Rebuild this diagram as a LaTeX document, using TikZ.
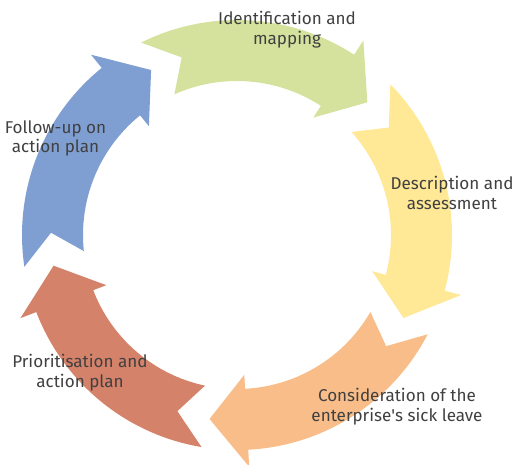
\documentclass[tikz,border=0pt]{standalone}
\usepackage{fontspec}
\setmainfont{Fira Sans}
\definecolor{idgreen}{RGB}{212,226,158}
\definecolor{descyellow}{RGB}{255,232,150}
\definecolor{sickorange}{RGB}{248,189,136}
\definecolor{priored}{RGB}{213,130,106}
\definecolor{followblue}{RGB}{127,159,211}
\tikzset{every picture/.style={line width=0.75pt}}
\tikzset{
  cyclearrow/.style={draw=none, fill=#1},
  steplabel/.style={align=center, inner sep=0.75pt, color={rgb, 255:red, 64; green, 64; blue, 64}, font=\fontsize{12.8}{14.8}\selectfont}
}

\begin{document}
\begin{tikzpicture}[x=0.75pt,y=0.75pt,yscale=-1,xscale=1]
\useasboundingbox (0,0) rectangle (516,464);

\begin{scope}[shift={(237,235)},yscale=-1]
%Shape: Circular Arrow (top)
\path [cyclearrow=idgreen] (116.5:215) -- (107.3:186) -- (114:154) arc [start angle=114, end angle=57, radius=154] -- (57:140) -- (45.5:186) -- (57:232) -- (57:215) arc [start angle=57, end angle=116.5, radius=215] -- cycle ;
%Shape: Circular Arrow (right)
\path [cyclearrow=descyellow] (44.5:215) -- (35.3:186) -- (42:154) arc [start angle=42, end angle=-15, radius=154] -- (-15:140) -- (-26.5:186) -- (-15:232) -- (-15:215) arc [start angle=-15, end angle=44.5, radius=215] -- cycle ;
%Shape: Circular Arrow (bottom right)
\path [cyclearrow=sickorange] (-27.5:215) -- (-36.7:186) -- (-30:154) arc [start angle=-30, end angle=-87, radius=154] -- (-87:140) -- (-98.5:186) -- (-87:232) -- (-87:215) arc [start angle=-87, end angle=-27.5, radius=215] -- cycle ;
%Shape: Circular Arrow (bottom left)
\path [cyclearrow=priored] (-99.5:215) -- (-108.7:186) -- (-102:154) arc [start angle=-102, end angle=-159, radius=154] -- (-159:140) -- (-170.5:186) -- (-159:232) -- (-159:215) arc [start angle=-159, end angle=-99.5, radius=215] -- cycle ;
%Shape: Circular Arrow (left)
\path [cyclearrow=followblue] (188.5:215) -- (179.3:186) -- (186:154) arc [start angle=186, end angle=129, radius=154] -- (129:140) -- (117.5:186) -- (129:232) -- (129:215) arc [start angle=129, end angle=188.5, radius=215] -- cycle ;
\end{scope}

% Text Node
\draw (287,30) node [steplabel] (ident) {Identification and\\mapping};
% Text Node
\draw (452,193) node [steplabel] (descr) {Description and\\assessment};
% Text Node
\draw (397,407) node [steplabel] (sick) {Consideration of the\\enterprise\textquotesingle s sick leave};
% Text Node
\draw (80,373) node [steplabel] (prio) {Prioritisation and\\action plan};
% Text Node
\draw (55.5,138.5) node [steplabel] (follow) {Follow-up on\\action plan};

\end{tikzpicture}
\end{document}
